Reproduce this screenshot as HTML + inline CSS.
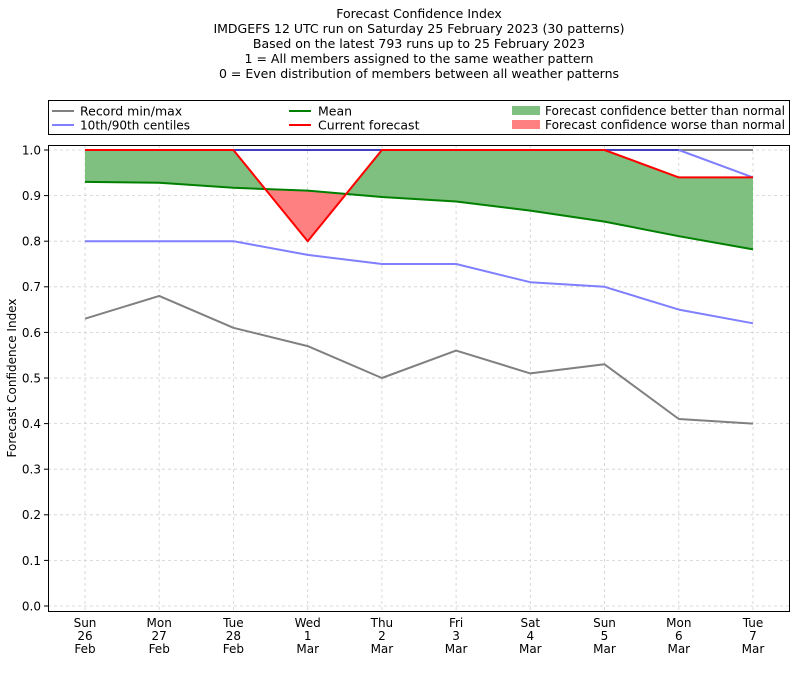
<!DOCTYPE html>
<html><head><meta charset="utf-8"><style>
body{margin:0;background:#fff}
svg{display:block;font-family:"DejaVu Sans","Liberation Sans",sans-serif}
</style></head><body>
<svg width="800" height="676" viewBox="0 0 800 676" xmlns="http://www.w3.org/2000/svg">
<g font-size="12.5" text-anchor="middle" fill="#000">
<text x="419" y="18">Forecast Confidence Index</text>
<text x="419" y="33">IMDGEFS 12 UTC run on Saturday 25 February 2023 (30 patterns)</text>
<text x="419" y="48">Based on the latest 793 runs up to 25 February 2023</text>
<text x="419" y="63">1 = All members assigned to the same weather pattern</text>
<text x="419" y="78">0 = Even distribution of members between all weather patterns</text>
</g>
<!-- legend -->
<rect x="48.5" y="100.5" width="741" height="34" fill="#fff" stroke="#000" stroke-width="1"/>
<g font-size="12.5">
<line x1="52" y1="111" x2="74" y2="111" stroke="#808080" stroke-width="2"/>
<text x="80" y="115.5">Record min/max</text>
<line x1="52" y1="125" x2="74" y2="125" stroke="#7f7fff" stroke-width="2"/>
<text x="80" y="129.5" textLength="110" lengthAdjust="spacingAndGlyphs">10th/90th centiles</text>
<line x1="289" y1="111" x2="311" y2="111" stroke="#008000" stroke-width="2"/>
<text x="318" y="115.5">Mean</text>
<line x1="289" y1="125" x2="311" y2="125" stroke="#ff0000" stroke-width="2"/>
<text x="318" y="129.5">Current forecast</text>
<rect x="512" y="106" width="28" height="9" fill="#7fbf7f"/>
<text x="545" y="115" textLength="240" lengthAdjust="spacingAndGlyphs">Forecast confidence better than normal</text>
<rect x="512" y="120" width="28" height="9" fill="#ff8080"/>
<text x="545" y="129" textLength="240" lengthAdjust="spacingAndGlyphs">Forecast confidence worse than normal</text>
</g>
<!-- grid -->
<g stroke="#d0d0d0" stroke-width="0.8" stroke-dasharray="3,3">
<line x1="48" y1="150" x2="790" y2="150"/><line x1="48" y1="195.6" x2="790" y2="195.6"/>
<line x1="48" y1="241.2" x2="790" y2="241.2"/><line x1="48" y1="286.8" x2="790" y2="286.8"/>
<line x1="48" y1="332.4" x2="790" y2="332.4"/><line x1="48" y1="378" x2="790" y2="378"/>
<line x1="48" y1="423.6" x2="790" y2="423.6"/><line x1="48" y1="469.2" x2="790" y2="469.2"/>
<line x1="48" y1="514.8" x2="790" y2="514.8"/><line x1="48" y1="560.4" x2="790" y2="560.4"/>
<line x1="48" y1="606" x2="790" y2="606"/>
<line x1="85" y1="145" x2="85" y2="611"/><line x1="159.2" y1="145" x2="159.2" y2="611"/>
<line x1="233.4" y1="145" x2="233.4" y2="611"/><line x1="307.7" y1="145" x2="307.7" y2="611"/>
<line x1="381.9" y1="145" x2="381.9" y2="611"/><line x1="456.1" y1="145" x2="456.1" y2="611"/>
<line x1="530.3" y1="145" x2="530.3" y2="611"/><line x1="604.5" y1="145" x2="604.5" y2="611"/>
<line x1="678.8" y1="145" x2="678.8" y2="611"/><line x1="753" y1="145" x2="753" y2="611"/>
</g>
<!-- fills -->
<polygon fill="#7fbf7f" points="85,150 159.2,150 233.4,150 265.2,189 233.4,187.8 159.2,182.8 85,181.9"/>
<polygon fill="#ff8080" points="265.2,189 307.7,241.2 346.2,193.9 307.7,190.6"/>
<polygon fill="#7fbf7f" points="346.2,193.9 381.9,150 456.1,150 530.3,150 604.5,150 678.8,177.4 753,177.4 753,249.4 678.8,236.2 604.5,221.6 530.3,210.6 456.1,201.5 381.9,197"/>
<!-- lines -->
<g fill="none" stroke-width="2" stroke-linejoin="round">
<polyline stroke="#808080" points="85,150 753,150"/>
<polyline stroke="#808080" points="85,318.7 159.2,295.9 233.4,327.8 307.7,346.1 381.9,378 456.1,350.6 530.3,373.4 604.5,364.3 678.8,419 753,423.6"/>
<polyline stroke="#7f7fff" points="85,241.2 159.2,241.2 233.4,241.2 307.7,254.9 381.9,264 456.1,264 530.3,282.2 604.5,286.8 678.8,309.6 753,323.3"/>
<polyline stroke="#3f3fbf" points="85,150 678.8,150"/>
<polyline stroke="#7f7fff" points="678.8,150 753,177.4"/>
<polyline stroke="#008000" points="85,181.9 159.2,182.8 233.4,187.8 307.7,190.6 381.9,197 456.1,201.5 530.3,210.6 604.5,221.6 678.8,236.2 753,249.4"/>
<polyline stroke="#ff0000" points="85,150 159.2,150 233.4,150 307.7,241.2 381.9,150 456.1,150 530.3,150 604.5,150 678.8,177.4 753,177.4"/>
</g>
<!-- axes -->
<rect x="48.5" y="145.5" width="741" height="466" fill="none" stroke="#000" stroke-width="1"/>
<g stroke="#000" stroke-width="1">
<line x1="44" y1="150" x2="48" y2="150"/><line x1="44" y1="195.6" x2="48" y2="195.6"/>
<line x1="44" y1="241.2" x2="48" y2="241.2"/><line x1="44" y1="286.8" x2="48" y2="286.8"/>
<line x1="44" y1="332.4" x2="48" y2="332.4"/><line x1="44" y1="378" x2="48" y2="378"/>
<line x1="44" y1="423.6" x2="48" y2="423.6"/><line x1="44" y1="469.2" x2="48" y2="469.2"/>
<line x1="44" y1="514.8" x2="48" y2="514.8"/><line x1="44" y1="560.4" x2="48" y2="560.4"/>
<line x1="44" y1="606" x2="48" y2="606"/>
</g>
<g font-size="12" text-anchor="end">
<text x="41" y="154.5">1.0</text><text x="41" y="200">0.9</text><text x="41" y="245.5">0.8</text>
<text x="41" y="291">0.7</text><text x="41" y="337">0.6</text><text x="41" y="382.5">0.5</text>
<text x="41" y="428">0.4</text><text x="41" y="473.5">0.3</text><text x="41" y="519">0.2</text>
<text x="41" y="565">0.1</text><text x="41" y="610.5">0.0</text>
</g>
<text font-size="12" text-anchor="middle" transform="translate(16,378) rotate(-90)">Forecast Confidence Index</text>
<g font-size="12" text-anchor="middle">
<text x="85" y="627">Sun</text><text x="85" y="640">26</text><text x="85" y="653">Feb</text>
<text x="159.2" y="627">Mon</text><text x="159.2" y="640">27</text><text x="159.2" y="653">Feb</text>
<text x="233.4" y="627">Tue</text><text x="233.4" y="640">28</text><text x="233.4" y="653">Feb</text>
<text x="307.7" y="627">Wed</text><text x="307.7" y="640">1</text><text x="307.7" y="653">Mar</text>
<text x="381.9" y="627">Thu</text><text x="381.9" y="640">2</text><text x="381.9" y="653">Mar</text>
<text x="456.1" y="627">Fri</text><text x="456.1" y="640">3</text><text x="456.1" y="653">Mar</text>
<text x="530.3" y="627">Sat</text><text x="530.3" y="640">4</text><text x="530.3" y="653">Mar</text>
<text x="604.5" y="627">Sun</text><text x="604.5" y="640">5</text><text x="604.5" y="653">Mar</text>
<text x="678.8" y="627">Mon</text><text x="678.8" y="640">6</text><text x="678.8" y="653">Mar</text>
<text x="753" y="627">Tue</text><text x="753" y="640">7</text><text x="753" y="653">Mar</text>
</g>
</svg>
</body></html>
